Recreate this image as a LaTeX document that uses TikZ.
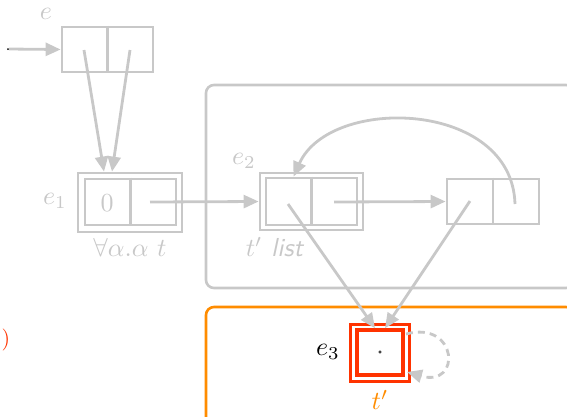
\documentclass[tikz,border=0pt]{standalone}
\usetikzlibrary{arrows.meta}
\definecolor{lg}{RGB}{200,200,200}
\definecolor{og}{RGB}{255,140,0}
\definecolor{rd}{RGB}{255,51,0}
\newcommand{\BX}[1]{\scalebox{2.6}{#1}}
\begin{document}
\begin{tikzpicture}[x=1pt,y=-1pt,
  g/.style={draw=lg,line width=2.8pt},
  cell/.style={g,rectangle,inner sep=0pt,fill=none},
  arr/.style={draw=lg,line width=2.8pt,-{Triangle[length=15pt,width=13pt]}},
  big/.style={inner sep=0pt},
  lab/.style={big,text=lg},
  mini/.style={circle,fill=black,inner sep=0pt,minimum size=2pt}]
\useasboundingbox (0,0) rectangle (567,416);
% containers
\node[draw=lg,line width=2.6pt,rounded corners=8pt,minimum width=368pt,minimum height=203pt,inner sep=0pt] (grp) at (390,186.5) {};
\node[draw=og,line width=2.6pt,rounded corners=8pt,minimum width=368pt,minimum height=120pt,inner sep=0pt] (org) at (390,367) {};
% e
\node[lab] (le) at (46,14) {\BX{$e$}};
\node[cell,minimum width=91pt,minimum height=45pt] (e) at (107.5,49.5) {};
\draw[g] (e.north) -- (e.south);
\node[mini] (st) at (8,49) {};
\draw[arr] (st) -- (e.west);
\coordinate (ea) at (84,50);
\coordinate (eb) at (130,50);
% e1
\node[cell,minimum width=104pt,minimum height=59pt] (e1o) at (130,202.5) {};
\node[cell,minimum width=91pt,minimum height=46pt] (e1) at (130.5,202) {};
\draw[g] (e1.north) -- (e1.south);
\node[lab] at (107,203) {\BX{$0$}};
\node[lab] (le1) at (55,201) {\BX{$e_1$}};
\node[lab] (te1) at (130,247) {\BX{$\forall\alpha.\alpha\ t$}};
\draw[arr] (ea) -- ([xshift=-26pt]e1o.north);
\draw[arr] (eb) -- ([xshift=-18pt]e1o.north);
\coordinate (e1r) at (150,202);
% e2
\node[cell,minimum width=103pt,minimum height=57pt] (e2o) at (311.5,201.5) {};
\node[cell,minimum width=91pt,minimum height=47pt] (e2) at (311.5,201.5) {};
\draw[g] (e2.north) -- (e2.south);
\node[lab] (le2) at (244,161) {\BX{$e_2$}};
\node[lab] (te2) at (275,247) {\BX{$t'$ \textsf{\textit{list}}}};
\draw[arr] (e1r) -- (e2o.west);
\coordinate (e2l) at (288,204);
\coordinate (e2r) at (334,202);
% right cons cell
\node[cell,minimum width=92pt,minimum height=45pt] (c) at (493,201.5) {};
\draw[g] (c.north) -- (c.south);
\coordinate (cl) at (470,201);
\coordinate (cr) at (515,204);
\draw[arr] (e2r) -- (c.west);
\draw[arr] (cr) .. controls (512,100) and (330,95) .. ([xshift=-18pt]e2.north);
% e3
\node[draw=rd,line width=3.5pt,minimum width=59pt,minimum height=57pt,inner sep=0pt] (e3o) at (380,353) {};
\node[draw=rd,line width=3.5pt,minimum width=46pt,minimum height=45pt,inner sep=0pt] (e3) at (380,352.5) {};
\node[big] (le3) at (328,352) {\BX{$e_3$}};
\node[draw=black,circle,inner sep=0pt,minimum size=2.5pt,line width=0.6pt] (e3d) at (380,352) {};
\node[big,text=og] (te3) at (380,400) {\BX{$t'$}};
\draw[arr] (e2l) -- ([xshift=-5pt]e3.north);
\draw[arr] (cl) -- ([xshift=5pt]e3.north);
\coordinate (lpa) at (406,334);
\coordinate (lpb) at (407,372);
\draw[arr,dash pattern=on 7pt off 5pt] (lpa) .. controls (458,320) and (462,388) .. (lpb);
% stray label
\node[big,text=rd] (par) at (6,340) {\scalebox{2.2}{)}};
\end{tikzpicture}
\end{document}
